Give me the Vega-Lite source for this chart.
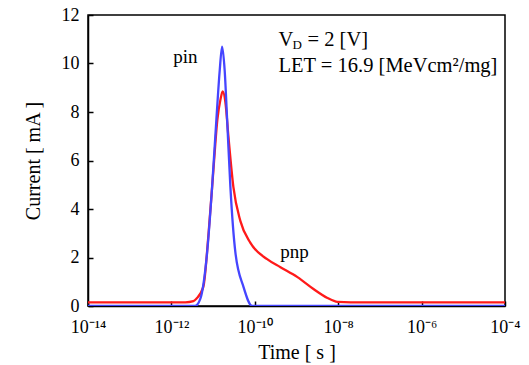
{
  "$schema": "https://vega.github.io/schema/vega-lite/v6.json",
  "autosize": {"type": "none"},
  "padding": {"left": 88, "top": 15, "right": 24, "bottom": 59},
  "width": 417,
  "height": 291,
  "config": {
    "font": "Liberation Serif",
    "view": {"stroke": "#000", "strokeWidth": 1.5},
    "axis": {
      "grid": false, "domainColor": "#000", "domainWidth": 1.5,
      "tickColor": "#000", "tickWidth": 1.5, "tickSize": -5,
      "labelFont": "Liberation Serif", "labelFontSize": 18, "labelColor": "#000",
      "titleFont": "Liberation Serif", "titleFontSize": 20, "titleFontWeight": "normal", "titleColor": "#000"
    }
  },
  "datasets": {
    "curves": [
      {"t": 1e-14, "I": 0, "s": "pin"},
      {"t": 3.715e-12, "I": 0, "s": "pin"},
      {"t": 4.955e-12, "I": 0.3, "s": "pin"},
      {"t": 7.18e-12, "I": 2.2, "s": "pin"},
      {"t": 9.46e-12, "I": 4.9, "s": "pin"},
      {"t": 1.2e-11, "I": 7.7, "s": "pin"},
      {"t": 1.439e-11, "I": 9.7, "s": "pin"},
      {"t": 1.644e-11, "I": 10.7, "s": "pin"},
      {"t": 1.897e-11, "I": 9.7, "s": "pin"},
      {"t": 2.168e-11, "I": 7.7, "s": "pin"},
      {"t": 2.6e-11, "I": 4.9, "s": "pin"},
      {"t": 3.428e-11, "I": 2.2, "s": "pin"},
      {"t": 5.333e-11, "I": 0.8, "s": "pin"},
      {"t": 8.63e-11, "I": 0, "s": "pin"},
      {"t": 1e-4, "I": 0, "s": "pin"},
      {"t": 1e-14, "I": 0.15, "s": "pnp"},
      {"t": 2.163e-12, "I": 0.15, "s": "pnp"},
      {"t": 3.365e-12, "I": 0.2, "s": "pnp"},
      {"t": 3.97e-12, "I": 0.3, "s": "pnp"},
      {"t": 5.848e-12, "I": 0.8, "s": "pnp"},
      {"t": 7.709e-12, "I": 2.9, "s": "pnp"},
      {"t": 1.016e-11, "I": 5.6, "s": "pnp"},
      {"t": 1.268e-11, "I": 7.7, "s": "pnp"},
      {"t": 1.496e-11, "I": 8.5, "s": "pnp"},
      {"t": 1.698e-11, "I": 8.85, "s": "pnp"},
      {"t": 1.972e-11, "I": 8.4, "s": "pnp"},
      {"t": 2.328e-11, "I": 7.0, "s": "pnp"},
      {"t": 3.069e-11, "I": 4.9, "s": "pnp"},
      {"t": 4.519e-11, "I": 3.5, "s": "pnp"},
      {"t": 7.852e-11, "I": 2.6, "s": "pnp"},
      {"t": 1.977e-10, "I": 1.93, "s": "pnp"},
      {"t": 4.121e-10, "I": 1.6, "s": "pnp"},
      {"t": 1.054e-9, "I": 1.19, "s": "pnp"},
      {"t": 2.553e-9, "I": 0.7, "s": "pnp"},
      {"t": 5.534e-9, "I": 0.33, "s": "pnp"},
      {"t": 9.616e-9, "I": 0.17, "s": "pnp"},
      {"t": 2.0e-8, "I": 0.15, "s": "pnp"},
      {"t": 1e-4, "I": 0.15, "s": "pnp"}
    ],
    "labels": [
      {"t": 2.16e-12, "I": 10.27, "txt": "pin"},
      {"t": 8.93e-10, "I": 2.23, "txt": "pnp"}
    ],
    "notes": [
      {"t": 3.71e-10, "I": 10.97, "txt": "V", "part": "main"},
      {"t": 3.71e-10, "I": 10.97, "txt": "D", "part": "sub"},
      {"t": 3.71e-10, "I": 10.97, "txt": "= 2 [V]", "part": "rest"},
      {"t": 3.71e-10, "I": 9.9, "txt": "LET = 16.9 [MeVcm²/mg]", "part": "main"}
    ]
  },
  "encoding": {
    "x": {
      "field": "t", "type": "quantitative",
      "scale": {"type": "log", "domain": [1e-14, 1e-4], "nice": false},
      "axis": {
        "title": "Time [ s ]", "values": [1e-14, 1e-12, 1e-10, 1e-8, 1e-6, 1e-4],
        "labelExpr": "'10' + (datum.value < 1e-13 ? '⁻¹⁴' : datum.value < 1e-11 ? '⁻¹²' : datum.value < 1e-9 ? '⁻¹⁰' : datum.value < 1e-7 ? '⁻⁸' : datum.value < 1e-5 ? '⁻⁶' : '⁻⁴')",
        "labelPadding": 17, "titlePadding": 6, "labelFlush": false
      }
    },
    "y": {
      "field": "I", "type": "quantitative",
      "scale": {"domain": [0, 12], "nice": false},
      "axis": {"title": "Current [ mA ]", "values": [0, 2, 4, 6, 8, 10, 12], "labelPadding": 14, "titlePadding": 18}
    }
  },
  "layer": [
    {
      "data": {"name": "curves"},
      "transform": [{"filter": "datum.s == 'pnp'"}],
      "mark": {"type": "line", "interpolate": "monotone", "strokeWidth": 2.3, "clip": true, "color": "#ff1a1a"},
      "encoding": {}
    },
    {
      "data": {"name": "curves"},
      "transform": [{"filter": "datum.s == 'pin'"}],
      "mark": {"type": "line", "interpolate": "monotone", "strokeWidth": 2.3, "clip": true, "color": "#4545ff"},
      "encoding": {}
    },
    {
      "data": {"name": "labels"},
      "mark": {"type": "text", "fontSize": 19, "font": "Liberation Serif", "color": "#000", "align": "center", "baseline": "middle"},
      "encoding": {"text": {"field": "txt"}}
    },
    {
      "data": {"name": "notes"},
      "transform": [{"filter": "datum.part == 'main'"}],
      "mark": {"type": "text", "fontSize": 20.5, "font": "Liberation Serif", "color": "#000", "align": "left", "baseline": "middle"},
      "encoding": {"text": {"field": "txt"}}
    },
    {
      "data": {"name": "notes"},
      "transform": [{"filter": "datum.part == 'sub'"}],
      "mark": {"type": "text", "fontSize": 13, "font": "Liberation Serif", "color": "#000", "align": "left", "baseline": "middle", "dx": 14, "dy": 5},
      "encoding": {"text": {"field": "txt"}}
    },
    {
      "data": {"name": "notes"},
      "transform": [{"filter": "datum.part == 'rest'"}],
      "mark": {"type": "text", "fontSize": 20.5, "font": "Liberation Serif", "color": "#000", "align": "left", "baseline": "middle", "dx": 29},
      "encoding": {"text": {"field": "txt"}}
    }
  ]
}
